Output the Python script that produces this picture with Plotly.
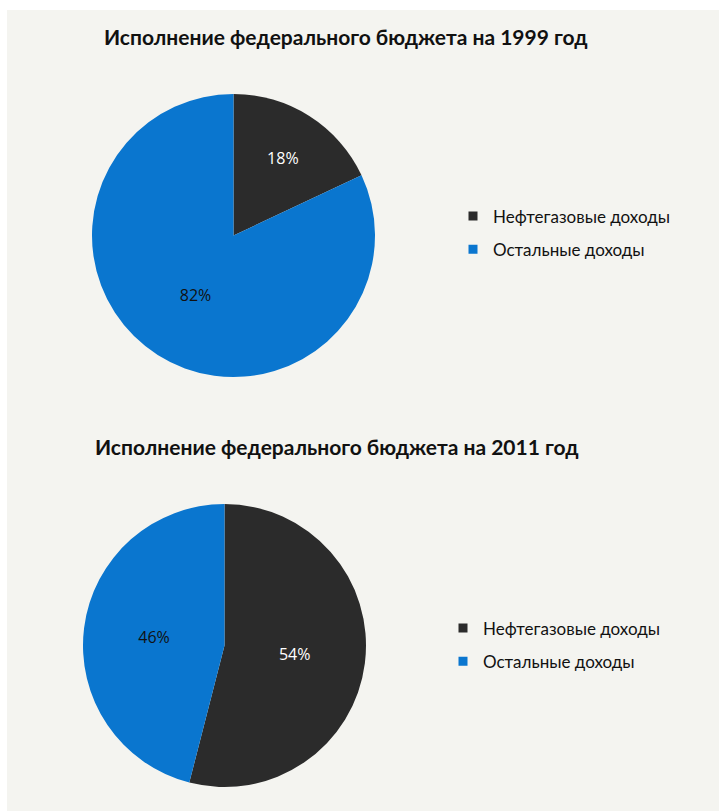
import plotly.graph_objects as go

W, H = 719, 811

labels = ["Нефтегазовые доходы", "Остальные доходы"]
values_1999 = [18, 82]
values_2011 = [54, 46]
titles = ["Исполнение федерального бюджета на 1999 год",
          "Исполнение федерального бюджета на 2011 год"]
colors = ["#2b2b2b", "#0a76cf"]
text_colors = ["#ffffff", "#111111"]


def px_dom(x0, x1, y0, y1):
    return dict(x=[x0 / W, x1 / W], y=[1 - y1 / H, 1 - y0 / H])


fig = go.Figure()
for vals, dom in [(values_1999, px_dom(92, 375, 94, 377)),
                  (values_2011, px_dom(83, 366, 504, 787))]:
    fig.add_trace(go.Pie(
        labels=labels, values=vals, sort=False, direction="clockwise",
        rotation=0, marker=dict(colors=colors, line=dict(width=0)),
        textinfo="percent", textposition="inside", insidetextorientation="horizontal",
        textfont=dict(family="Open Sans", size=16, color=text_colors),
        domain=dom, showlegend=False, hoverinfo="label+percent",
    ))

# legend entries (one legend per pie)
for leg in ["legend", "legend2"]:
    for i, lab in enumerate(labels):
        fig.add_trace(go.Scatter(
            x=[None], y=[None], mode="markers", name=lab,
            marker=dict(symbol="square", size=9, color=colors[i]),
            legend=leg, legendgroup=f"{leg}_{i}", showlegend=True,
        ))

legend_style = dict(font=dict(family="Lato", size=17, color="#111111"),
                    bgcolor="rgba(0,0,0,0)", xanchor="left", yanchor="middle",
                    itemwidth=30, tracegroupgap=8)

fig.update_layout(
    width=W, height=H,
    margin=dict(l=0, r=0, t=0, b=0),
    paper_bgcolor="#ffffff",
    plot_bgcolor="rgba(0,0,0,0)",
    xaxis=dict(visible=False), yaxis=dict(visible=False),
    showlegend=True,
    legend=dict(x=453 / W, y=1 - 233 / H, **legend_style),
    legend2=dict(x=443 / W, y=1 - 645 / H, **legend_style),
    shapes=[dict(type="rect", xref="paper", yref="paper", x0=7 / W, x1=1,
                 y0=0, y1=1 - 10 / H, fillcolor="#f4f4f0", line=dict(width=0),
                 layer="below")],
    annotations=[
        dict(text="<b>" + titles[0] + "</b>", x=346 / W, y=1 - 36 / H,
             xref="paper", yref="paper", showarrow=False, xanchor="center",
             yanchor="middle", font=dict(family="Lato", size=21, color="#111111")),
        dict(text="<b>" + titles[1] + "</b>", x=337 / W, y=1 - 446 / H,
             xref="paper", yref="paper", showarrow=False, xanchor="center",
             yanchor="middle", font=dict(family="Lato", size=21, color="#111111")),
    ],
)

fig.write_html("out.html", config={"displayModeBar": False},
               post_script="document.body.style.margin='0';")
